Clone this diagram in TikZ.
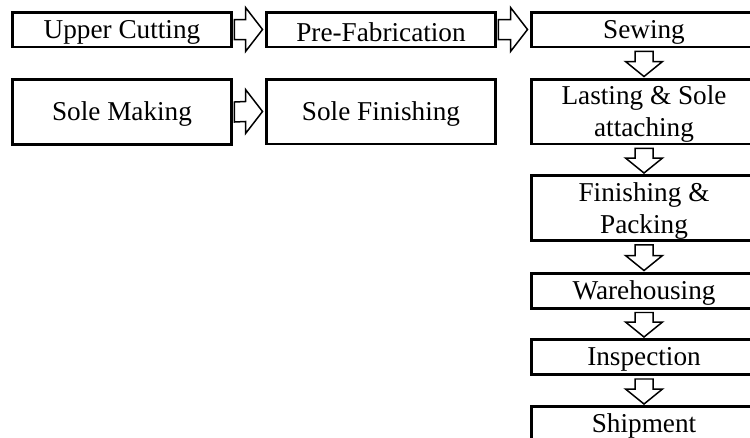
\documentclass[tikz,border=0pt]{standalone}
\usepackage{fontspec}
\setmainfont{Liberation Serif}
\usepackage{tikz}
\usetikzlibrary{calc}

% hollow block arrows between two boxes
\newcommand{\rarrow}[2]{%
  \draw[blockarrow] ($(#1.east)+(1,-10)$) -- ($(#2.west)+(-19,-10)$) -- ($(#2.west)+(-19,-22)$)
    -- ($(#2.west)+(-2,0)$) -- ($(#2.west)+(-19,22)$) -- ($(#2.west)+(-19,10)$)
    -- ($(#1.east)+(1,10)$) -- cycle;}
\newcommand{\darrow}[2]{%
  \draw[blockarrow] ($(#1.south)+(-9,3)$) -- ($(#2.north)+(-9,-16)$) -- ($(#2.north)+(-18.5,-16)$)
    -- ($(#2.north)+(0,-1)$) -- ($(#2.north)+(18.5,-16)$) -- ($(#2.north)+(9,-16)$)
    -- ($(#1.south)+(9,3)$) -- cycle;}

\begin{document}
\begin{tikzpicture}[x=0.02cm,y=-0.02cm,
    box/.style={shape=rectangle,draw=black,line width=1.7pt,inner sep=0pt,
      minimum height=0.7cm,align=center,font=\fontsize{15.5}{18.2}\selectfont,
      execute at begin node={\rule{0pt}{13.4pt}}},
    tallbox/.style={box,minimum height=1.3cm},
    tworow/.style={tallbox,text depth=0pt},
    blockarrow/.style={draw=black,line width=0.85pt,line join=miter}]
        \useasboundingbox (0,0) rectangle (750,437);

        \node[box,minimum width=4.4cm] (UC) at (122,29.5) {Upper Cutting};
        \node[box,minimum width=4.6cm] (PF) at (381,29.5) {Pre-Fabrication};
        \node[box,minimum width=4.52cm] (SW) at (644,29.5) {Sewing};
        \node[tallbox,minimum width=4.4cm] (SM) at (122,112) {Sole Making};
        \node[tallbox,minimum width=4.6cm] (SF) at (381,111.5) {Sole Finishing};
        \node[tworow,minimum width=4.52cm] (LS) at (644,111.5) {Lasting \& Sole\\attaching};
        \node[tworow,minimum width=4.52cm] (FP) at (644,208) {Finishing \&\\Packing};
        \node[box,minimum width=4.52cm] (WH) at (644,290.5) {Warehousing};
        \node[box,minimum width=4.52cm] (IN) at (644,357) {Inspection};
        \node[box,minimum width=4.52cm] (SH) at (644,424) {Shipment};

        \rarrow{UC}{PF}
        \rarrow{PF}{SW}
        \rarrow{SM}{SF}
        \darrow{SW}{LS}
        \darrow{LS}{FP}
        \darrow{FP}{WH}
        \darrow{WH}{IN}
        \darrow{IN}{SH}
    \end{tikzpicture}
\end{document}
